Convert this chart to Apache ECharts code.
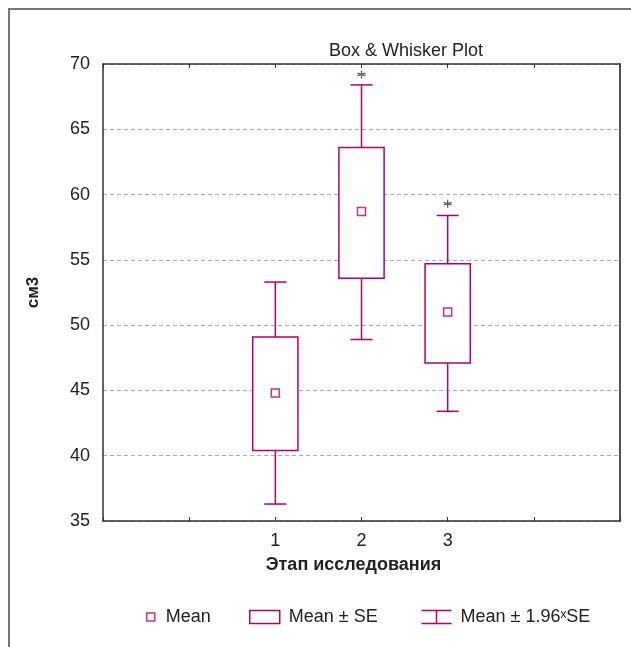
<!DOCTYPE html>
<html>
<head>
<meta charset="utf-8">
<script src="https://cdn.jsdelivr.net/npm/echarts@6/dist/echarts.min.js"></script>
<style>
  html, body { margin: 0; padding: 0; background: #fff; }
  #chart { width: 631px; height: 647px; }
</style>
</head>
<body>
<div id="chart"></div>
<script>
// этапы исследования и значения
const stages = [1, 2, 3]
const means = [44.8, 58.7, 51.0]
const seLow = [40.4, 53.6, 47.1]
const seHigh = [49.1, 63.6, 54.7]
const ciLow = [36.3, 48.9, 43.4]
const ciHigh = [53.3, 68.4, 58.4]
const extremes = [null, 69.2, 59.3]
const xTickLabels = ['1', '2', '3']

const MAG = '#b5006c'
const FONT = "'Liberation Sans', Arial, sans-serif"

const chart = echarts.init(document.getElementById('chart'))

const boxData = stages.map((s, i) => [s, seLow[i], seHigh[i]])
const whiskerData = stages.map((s, i) => [s, ciLow[i], ciHigh[i], seLow[i], seHigh[i]])
const meanData = stages.map((s, i) => [s, means[i]])
const extremeData = stages.map((s, i) => [s, extremes[i]]).filter(d => d[1] != null)

const asterisk = 'path://M0,-5L0,5M-4.6,-1.6L4.6,1.6M-4.6,1.6L4.6,-1.6'

const option = {
  animation: false,
  textStyle: { fontFamily: FONT },
  graphic: [{
    type: 'rect',
    silent: true,
    shape: { x: 9, y: 9, width: 700, height: 700 },
    style: { fill: 'none', stroke: '#777', lineWidth: 2 }
  }],
  title: {
    text: 'Box & Whisker Plot',
    left: 324,
    top: 37,
    textStyle: { fontFamily: FONT, fontSize: 18, fontWeight: 'normal', color: '#222' }
  },
  grid: { left: 103, right: 11, top: 64, bottom: 126 },
  legend: [
    {
      left: 141, top: 603,
      itemWidth: 8, itemHeight: 8,
      data: [{ name: 'Mean', icon: 'rect', itemStyle: { color: '#fff', borderColor: MAG, borderWidth: 1.5 } }],
      textStyle: { fontFamily: FONT, fontSize: 18, color: '#222', padding: [0, 0, 0, 6] }
    },
    {
      left: 244, top: 603,
      itemWidth: 30, itemHeight: 13,
      data: [{ name: 'Mean ± SE', icon: 'rect', itemStyle: { color: '#fff', borderColor: MAG, borderWidth: 1.5 } }],
      textStyle: { fontFamily: FONT, fontSize: 18, color: '#222', padding: [0, 0, 0, 4] }
    },
    {
      left: 414, top: 603,
      itemWidth: 30, itemHeight: 13,
      data: [{ name: 'Mean ± 1.96ˣSE', icon: 'path://M0,0H30M15,0V13M0,13H30', itemStyle: { color: 'none', borderColor: MAG, borderWidth: 1.5 } }],
      textStyle: { fontFamily: FONT, fontSize: 18, color: '#222', padding: [0, 0, 0, 4] }
    }
  ],
  xAxis: [
    {
      type: 'value',
      min: -1, max: 5, interval: 1,
      name: 'Этап исследования',
      nameLocation: 'middle',
      nameGap: 35,
      nameTextStyle: { fontFamily: FONT, fontSize: 18, fontWeight: 'bold', color: '#222', padding: [0, 16, 0, 0] },
      axisLine: { onZero: false, lineStyle: { color: '#333', width: 1.5 } },
      axisTick: { inside: true, length: 4, lineStyle: { color: '#333' } },
      axisLabel: {
        fontFamily: FONT, fontSize: 18, color: '#222', margin: 11,
        formatter: v => xTickLabels[stages.indexOf(v)] || ''
      },
      splitLine: { show: false }
    },
    {
      type: 'value',
      position: 'top',
      min: -1, max: 5, interval: 1,
      axisLine: { onZero: false, lineStyle: { color: '#333', width: 1.5 } },
      axisTick: { inside: true, length: 4, lineStyle: { color: '#333' } },
      axisLabel: { show: false },
      splitLine: { show: false }
    }
  ],
  yAxis: [
    {
      type: 'value',
      min: 35, max: 70, interval: 5,
      name: 'см3',
      nameLocation: 'middle',
      nameGap: 61,
      nameTextStyle: { fontFamily: FONT, fontSize: 17, fontWeight: 'bold', color: '#222' },
      axisLine: { show: true, onZero: false, lineStyle: { color: '#333', width: 1.5 } },
      axisTick: { show: false },
      axisLabel: { fontFamily: FONT, fontSize: 18, color: '#222', margin: 13 },
      splitLine: { lineStyle: { color: '#aaa', type: [4, 3], width: 1 } }
    },
    {
      type: 'value',
      position: 'right',
      min: 35, max: 70, interval: 5,
      axisLine: { show: true, onZero: false, lineStyle: { color: '#555', width: 2 } },
      axisTick: { show: false },
      axisLabel: { show: false },
      splitLine: { show: false }
    }
  ],
  series: [
    {
      name: 'Mean ± 1.96ˣSE',
      type: 'custom',
      data: whiskerData,
      itemStyle: { color: MAG },
      renderItem: (params, api) => {
        const x = api.value(0)
        const lo = api.coord([x, api.value(1)])
        const hi = api.coord([x, api.value(2)])
        const boxLo = api.coord([x, api.value(3)])
        const boxHi = api.coord([x, api.value(4)])
        const half = api.size([0.128, 0])[0]
        const style = { stroke: MAG, lineWidth: 1.5 }
        return {
          type: 'group',
          children: [
            { type: 'line', shape: { x1: hi[0], y1: hi[1], x2: boxHi[0], y2: boxHi[1] }, style },
            { type: 'line', shape: { x1: lo[0], y1: lo[1], x2: boxLo[0], y2: boxLo[1] }, style },
            { type: 'line', shape: { x1: hi[0] - half, y1: hi[1], x2: hi[0] + half, y2: hi[1] }, style },
            { type: 'line', shape: { x1: lo[0] - half, y1: lo[1], x2: lo[0] + half, y2: lo[1] }, style }
          ]
        }
      }
    },
    {
      name: 'Mean ± SE',
      type: 'custom',
      data: boxData,
      itemStyle: { color: MAG },
      renderItem: (params, api) => {
        const x = api.value(0)
        const lo = api.coord([x, api.value(1)])
        const hi = api.coord([x, api.value(2)])
        const w = api.size([0.525, 0])[0]
        return {
          type: 'rect',
          shape: { x: lo[0] - w / 2, y: hi[1], width: w, height: lo[1] - hi[1] },
          style: { fill: '#fff', stroke: MAG, lineWidth: 1.5 }
        }
      }
    },
    {
      name: 'Mean',
      type: 'scatter',
      data: meanData,
      symbol: 'rect',
      symbolSize: 8,
      itemStyle: { color: '#fff', borderColor: MAG, borderWidth: 1.5 },
      z: 5
    },
    {
      name: 'extremes',
      type: 'scatter',
      data: extremeData,
      symbol: asterisk,
      symbolSize: 8,
      itemStyle: { color: 'none', borderColor: '#333', borderWidth: 1.3 },
      z: 5
    }
  ]
}

chart.setOption(option)
</script>
</body>
</html>
